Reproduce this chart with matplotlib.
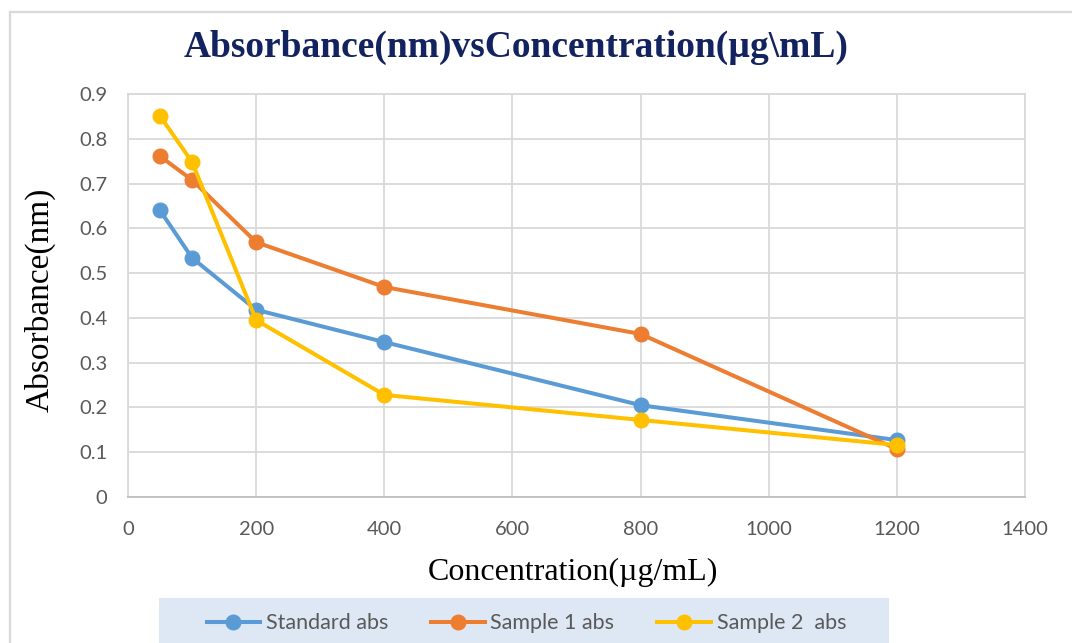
import matplotlib.pyplot as plt
from matplotlib.patches import Rectangle
from matplotlib.lines import Line2D

# Concentration (ug/mL) and absorbance readings
conc = [50, 100, 200, 400, 800, 1200]
standard_abs = [0.640, 0.534, 0.418, 0.346, 0.205, 0.127]
sample1_abs = [0.761, 0.708, 0.569, 0.469, 0.364, 0.107]
sample2_abs = [0.851, 0.748, 0.395, 0.228, 0.172, 0.116]

series_names = ["Standard abs", "Sample 1 abs", "Sample 2  abs"]
colors = ["#5B9BD5", "#ED7D31", "#FFC000"]

fig = plt.figure(figsize=(10.72, 6.43), dpi=100)
ax = fig.add_axes([0.1194, 0.2271, 0.8368, 0.6267])

for vals, c in zip([standard_abs, sample1_abs, sample2_abs], colors):
    ax.plot(conc, vals, color=c, lw=2.9, marker="o", ms=10.5, mec=c, mfc=c,
            solid_capstyle="round", zorder=3)

ax.set_xlim(0, 1400)
ax.set_ylim(0, 0.9)
ax.set_xticks(range(0, 1401, 200))
ax.set_yticks([i / 10 for i in range(10)])
ax.set_yticklabels(["0"] + ["0.%d" % i for i in range(1, 10)])
ax.grid(True, color="#d9d9d9", lw=1.3)
ax.set_axisbelow(True)
for s in ax.spines.values():
    s.set_color("#d9d9d9")
    s.set_linewidth(1.3)
ax.spines["bottom"].set_color("#bfbfbf")
ax.tick_params(length=0, labelsize=14.5, colors="#595959")
ax.tick_params(axis="x", pad=17)
ax.tick_params(axis="y", pad=15)
for lab in ax.get_xticklabels() + ax.get_yticklabels():
    lab.set_family("Lato")

fig.text(0.481, 0.927, "Absorbance(nm)vsConcentration(µg\\mL)", ha="center", va="center",
         family="Liberation Serif", weight="bold", fontsize=27, color="#13235F")
fig.text(0.037, 0.533, "Absorbance(nm)", rotation=90, ha="center", va="center",
         family="Liberation Serif", fontsize=24, color="black")
fig.text(0.534, 0.110, "Concentration(µg/mL)", ha="center", va="center",
         family="Liberation Serif", fontsize=23, color="black")

# outer chart frame, open at right and bottom
fig.add_artist(Line2D([0.0093, 0.0093], [0, 0.981], color="#d9d9d9", lw=1.6))
fig.add_artist(Line2D([0.0093, 1], [0.981, 0.981], color="#d9d9d9", lw=1.6))

# legend background strip
fig.add_artist(Rectangle((159 / 1072, 0), 730 / 1072, 45 / 643, color="#DEE8F4", lw=0))
handles = [Line2D([], [], color=c, lw=2.9, marker="o", ms=10.5) for c in colors]
leg = fig.legend(handles, series_names, loc="center", bbox_to_anchor=(0.491, 0.031),
                 ncol=3, frameon=False, handlelength=2.5, columnspacing=2.0,
                 handletextpad=0.25, prop={"family": "Lato", "size": 15.5})
for t in leg.get_texts():
    t.set_color("#595959")

fig.savefig("out.png", dpi=100)
